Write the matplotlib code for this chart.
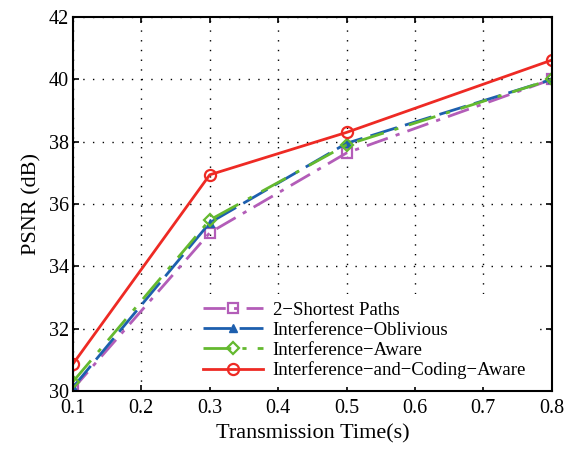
import matplotlib.pyplot as plt

plt.rcParams['font.family'] = ['Liberation Serif', 'DejaVu Serif']
plt.rcParams['mathtext.fontset'] = 'stix'

times = [0.1, 0.3, 0.5, 0.8]
shortest = [30.07, 35.08, 37.64, 40.0]
oblivious = [30.12, 35.4, 37.95, 40.0]
aware = [30.3, 35.49, 37.9, 40.0]
coding = [30.87, 36.94, 38.3, 40.62]

labels = ['2\u2212Shortest Paths', 'Interference\u2212Oblivious',
          'Interference\u2212Aware', 'Interference\u2212and\u2212Coding\u2212Aware']

fig, ax = plt.subplots(figsize=(5.7, 4.5), dpi=100)
fig.subplots_adjust(left=0.128, right=0.968, top=0.962, bottom=0.131)

ax.plot(times, shortest, color='#b35db8', linestyle=(0, (8, 3, 1.5, 3)), lw=2,
        marker='s', ms=7, mfc='none', mew=1.6, label=labels[0])
ax.plot(times, oblivious, color='#1d5fae', linestyle=(0, (10, 3)), lw=2,
        marker='^', ms=6, mfc='#1d5fae', label=labels[1])
ax.plot(times, aware, color='#64b92f', linestyle=(0, (10, 4, 1.5, 4)), lw=2,
        marker='D', ms=6, mfc='none', mew=1.6, label=labels[2])
ax.plot(times, coding, color='#ee2a24', linestyle='-', lw=2,
        marker='o', ms=8, mfc='none', mew=1.6, label=labels[3])

ax.set_xlim(0.1, 0.8)
ax.set_ylim(30, 42)
ax.set_xticks([0.1, 0.2, 0.3, 0.4, 0.5, 0.6, 0.7, 0.8])
ax.set_yticks(range(30, 43, 2))
ax.tick_params(direction='in', top=True, right=True, labelsize=14.5, width=1.2, length=4)
ax.tick_params(axis='x', pad=6)
ax.tick_params(axis='y', pad=3)
for s in ax.spines.values():
    s.set_linewidth(1.5)
ax.grid(True, color='black', linestyle=(0, (1, 6)), lw=1)

ax.set_xlabel('Transmission Time(s)', fontsize=16, labelpad=4)
ax.set_ylabel('PSNR (dB)', fontsize=16, labelpad=5)

leg = ax.legend(loc='lower right', bbox_to_anchor=(0.962, 0.011), fontsize=13.5,
                frameon=True, handlelength=3.2, borderaxespad=0,
                labelspacing=0.15, handletextpad=0.5)
leg.get_frame().set_edgecolor('none')
leg.get_frame().set_alpha(1)
leg.get_frame().set_boxstyle('square', pad=0)

fig.savefig('out.png', dpi=100)
